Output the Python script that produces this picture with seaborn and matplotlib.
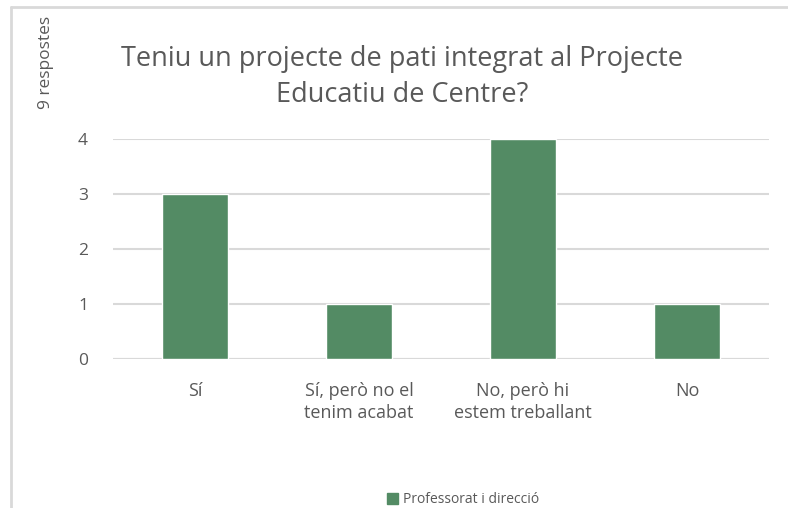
import numpy as np
import pandas as pd
import matplotlib.pyplot as plt
import seaborn as sns
from matplotlib.lines import Line2D

categories = ['Sí', 'Sí, però no el\ntenim acabat', 'No, però hi\nestem treballant', 'No']
values = [3, 1, 4, 1]
series_name = 'Professorat i direcció'
title = 'Teniu un projecte de pati integrat al Projecte\nEducatiu de Centre?'
side_note = '9 respostes'

bar_color = '#538B64'
text_color = '#595959'
grid_color = '#D9D9D9'

sns.set_theme(style='white')
plt.rcParams['font.family'] = ['Open Sans', 'DejaVu Sans']

df = pd.DataFrame({'categoria': categories, 'respostes': values, 'serie': series_name})

fig = plt.figure(figsize=(7.88, 5.08), dpi=100)
ax = fig.add_axes([0.1434, 0.2933, 0.8325, 0.4331])

sns.barplot(data=df, x='categoria', y='respostes', hue='serie',
            palette=[bar_color], width=0.4, ax=ax, legend=False, zorder=3,
            saturation=1)

ax.set_xlim(-0.5, 3.5)
ax.set_ylim(0, 4)
ax.set_yticks([0, 1, 2, 3, 4])
ax.yaxis.grid(True, color=grid_color, linewidth=1.5, zorder=0)
ax.set_axisbelow(True)
for s in ax.spines.values():
    s.set_visible(False)
ax.axhline(0, color=grid_color, linewidth=1.5, zorder=1)

ax.tick_params(axis='y', length=0, labelsize=12.5, labelcolor=text_color, pad=18)
ax.tick_params(axis='x', length=0, labelsize=13, labelcolor=text_color, pad=16.5)
for lbl in ax.get_xticklabels():
    lbl.set_linespacing(1.28)
ax.set_xlabel('')
ax.set_ylabel('')

fig.text(0.51, 0.848, title, ha='center', va='center', fontsize=19.5,
         color=text_color, linespacing=1.4)
fig.text(0.058, 0.878, side_note, rotation=90, ha='center', va='center',
         fontsize=12.5, color=text_color)

handle = plt.Rectangle((0, 0), 1, 1, color=bar_color)
fig.legend([handle], [series_name], loc='center', bbox_to_anchor=(0.588, 0.016),
           frameon=False, fontsize=10, labelcolor=text_color,
           handlelength=0.75, handleheight=0.75, handletextpad=0.4,
           borderpad=0, borderaxespad=0)

# marc del gràfic
fig.add_artist(Line2D([10.5 / 788, 10.5 / 788], [0, 1 - 7 / 508], color=grid_color, linewidth=2))
fig.add_artist(Line2D([10.5 / 788, 1], [1 - 7 / 508, 1 - 7 / 508], color=grid_color, linewidth=2))

fig.savefig('out.png', dpi=100)
